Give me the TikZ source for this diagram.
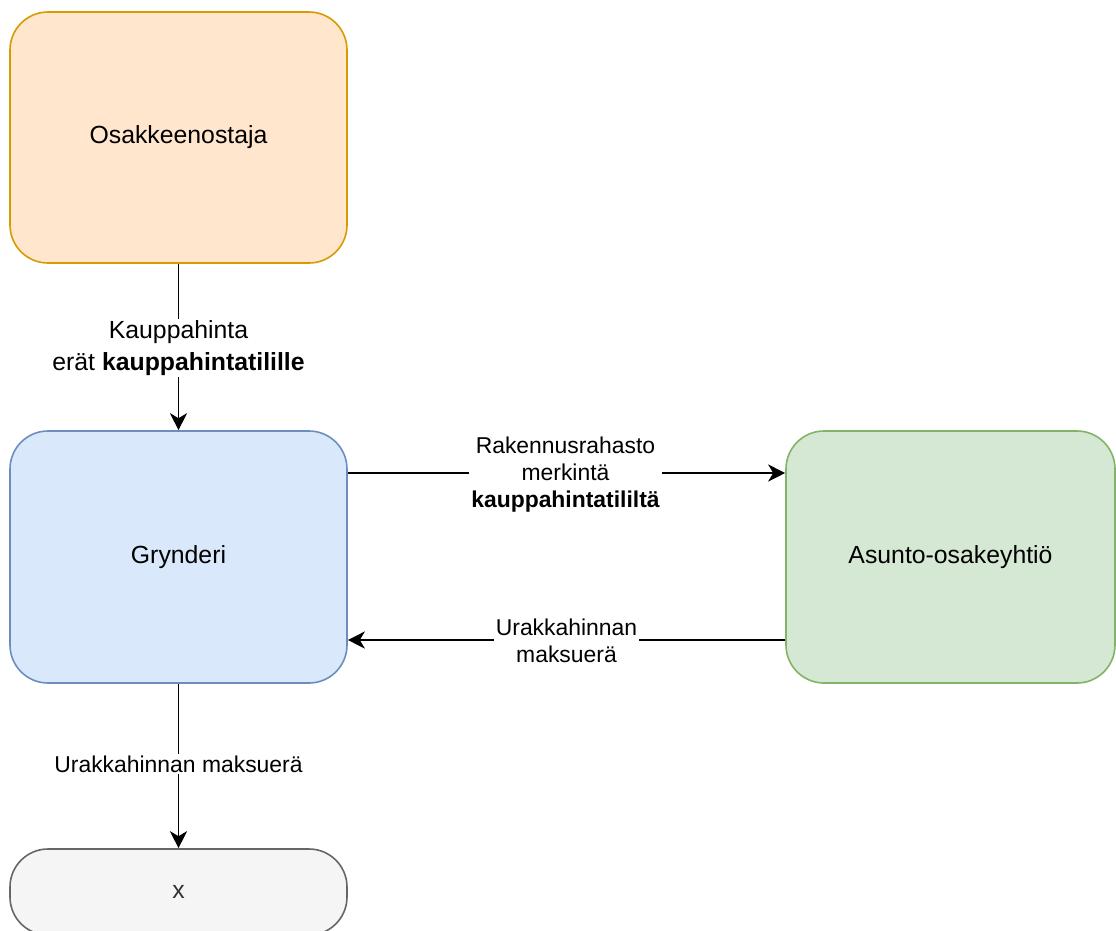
\documentclass[tikz,border=0pt]{standalone}
\usepackage{fontspec}
\setmainfont{Liberation Sans}
\usetikzlibrary{arrows.meta}
\definecolor{orfill}{HTML}{FFE6CC}\definecolor{orline}{HTML}{D79B00}
\definecolor{blfill}{HTML}{DAE8FC}\definecolor{blline}{HTML}{6C8EBF}
\definecolor{grfill}{HTML}{D5E8D4}\definecolor{grline}{HTML}{82B366}
\definecolor{gyfill}{HTML}{F5F5F5}\definecolor{gyline}{HTML}{666666}
\definecolor{gytext}{HTML}{333333}
\tikzset{
  box/.style={draw, line width=1.6pt, rounded corners=38pt, rectangle,
    inner sep=0pt, font=\fontsize{24.8}{29}\selectfont},
  flow/.style={line width=1.9pt, -{Stealth[length=17pt,width=17pt,inset=5pt]}},
  lbl/.style={fill=white, inner sep=2pt, align=center,
    font=\fontsize{22.9}{27}\selectfont},
  biglbl/.style={lbl, font=\fontsize{24.8}{31.5}\selectfont}
}
\begin{document}
\begin{tikzpicture}[x=1pt,y=-1pt]
\useasboundingbox (0,0) rectangle (1116,930);
\clip (0,0) rectangle (1116,930);
% parties
\node[box, fill=orfill, draw=orline, minimum width=337pt, minimum height=251pt]
  (osto) at (178.5,137.5) {Osakkeenostaja};
\node[box, fill=blfill, draw=blline, minimum width=337pt, minimum height=252pt]
  (gry) at (178.5,557) {Grynderi};
\node[box, fill=grfill, draw=grline, minimum width=329pt, minimum height=252pt]
  (aoy) at (950.5,557) {Asunto-osakeyhtiö};
\node[box, fill=gyfill, draw=gyline, text=gytext, minimum width=337pt, minimum height=86pt]
  (x) at (178.5,892) {x};
% payment flows
\draw[flow] (osto.south) -- node[biglbl, yshift=-1pt] {Kauppahinta\\erät \textbf{kauppahintatilille}} (gry.north);
\draw[flow] ([yshift=84pt]gry.east) -- node[lbl, xshift=-1pt, yshift=-2pt] {Rakennusrahasto\\merkintä\\\textbf{kauppahintatililtä}} ([yshift=84pt]aoy.west);
\draw[flow] ([yshift=-83pt]aoy.west) -- node[lbl, xshift=0pt, yshift=-1pt] {Urakkahinnan\\maksuerä} ([yshift=-83pt]gry.east);
\draw[flow] (gry.south) -- node[lbl, yshift=2pt] {Urakkahinnan maksuerä} (x.north);
\end{tikzpicture}
\end{document}
